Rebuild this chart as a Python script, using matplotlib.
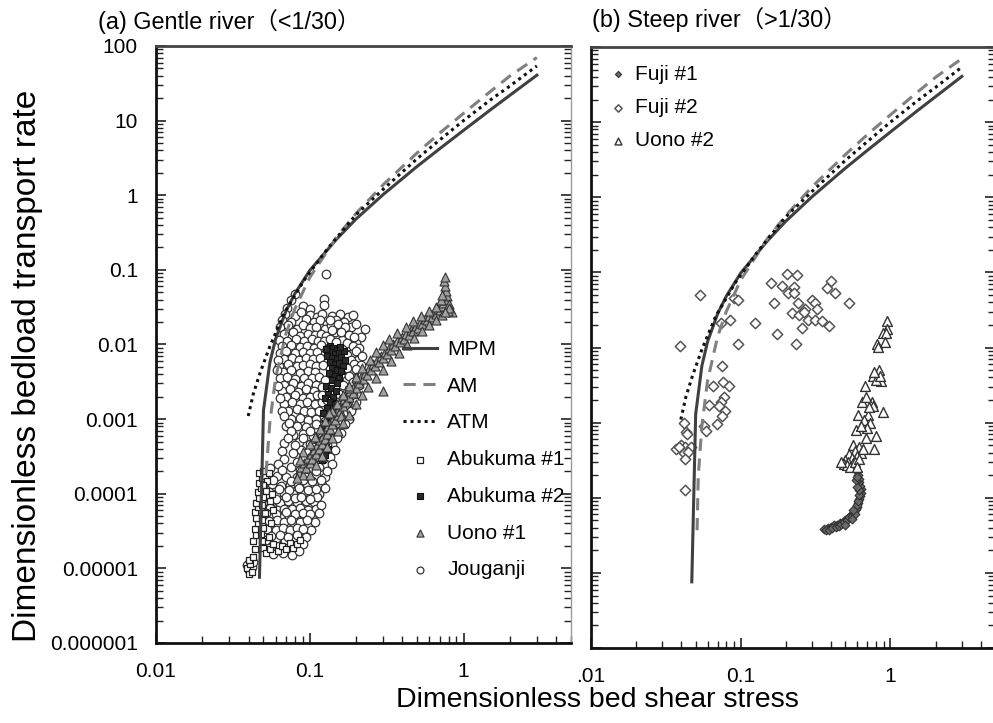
import matplotlib
matplotlib.use("Agg")
import matplotlib.pyplot as plt
from matplotlib.ticker import LogLocator, NullFormatter

plt.rcParams['font.family'] = ['Liberation Sans', 'Noto Sans CJK JP', 'DejaVu Sans']

# ---- model curves ----
mpm_x = [0.0471, 0.05, 0.055, 0.06, 0.07, 0.08, 0.1, 0.15, 0.2, 0.3, 0.5, 0.7, 1.0, 1.5, 2.0, 3.0]
mpm_y = [7.6e-6, 1.3e-3, 5.7e-3, 0.0119, 0.028, 0.048, 0.098, 0.26, 0.48, 1.02, 2.44, 4.2, 7.4, 14.0, 21.8, 40.6]

# first point only reached in panel (b)
am_x = [0.0511, 0.052, 0.055, 0.06, 0.07, 0.08, 0.1, 0.15, 0.2, 0.3, 0.5, 0.7, 1.0, 1.5, 2.0, 3.0]
am_y = [3.7e-5, 1.9e-4, 9.0e-4, 3.6e-3, 0.0139, 0.030, 0.079, 0.278, 0.57, 1.38, 3.7, 6.8, 12.5, 24.7, 39.5, 70.0]

atm_x = [0.0398, 0.043, 0.0476, 0.055, 0.068, 0.092, 0.13, 0.2, 0.3, 0.5, 0.7, 1.0, 1.5, 2.0, 3.0]
atm_y = [1.1e-3, 2.2e-3, 4.2e-3, 9.4e-3, 0.026, 0.073, 0.19, 0.55, 1.2, 3.1, 5.5, 10.0, 19.0, 29.0, 54.0]

# ---- (a) gentle river ----
abukuma1 = [(0.039, 1.0e-5), (0.040, 8.5e-6), (0.041, 1.15e-5), (0.040, 1.3e-5), (0.042, 9e-6),
            (0.043, 1.4e-5), (0.044, 1.8e-5), (0.043, 2.3e-5), (0.045, 2.8e-5), (0.044, 3.4e-5),
            (0.046, 4e-5), (0.045, 4.8e-5), (0.044, 5.7e-5), (0.046, 6.6e-5), (0.045, 7.6e-5),
            (0.047, 8.8e-5), (0.046, 1.05e-4), (0.048, 1.2e-4), (0.047, 1.4e-4), (0.049, 1.6e-4),
            (0.051, 1.75e-4), (0.053, 1.5e-4), (0.050, 1.3e-4), (0.052, 1.1e-4), (0.050, 9e-5),
            (0.049, 7e-5), (0.051, 5.5e-5), (0.049, 4.4e-5), (0.050, 3.5e-5), (0.048, 2.9e-5),
            (0.049, 2.3e-5), (0.050, 1.9e-5), (0.052, 1.6e-5), (0.055, 1.8e-5), (0.058, 2.1e-5),
            (0.062, 1.7e-5), (0.066, 2e-5), (0.070, 1.8e-5), (0.074, 2.2e-5), (0.078, 1.9e-5),
            (0.083, 2.1e-5), (0.087, 2.4e-5), (0.054, 2.6e-5), (0.056, 4e-5), (0.058, 6e-5),
            (0.055, 8e-5), (0.057, 1e-4), (0.047, 1.9e-4), (0.050, 2e-4), (0.054, 1.9e-4)]

abukuma2 = [(0.135, 0.0095), (0.142, 0.009), (0.150, 0.0085), (0.138, 0.008), (0.146, 0.0075),
            (0.155, 0.0078), (0.130, 0.007), (0.140, 0.0066), (0.150, 0.0064), (0.160, 0.0068),
            (0.135, 0.0058), (0.145, 0.0055), (0.155, 0.0057), (0.165, 0.0052), (0.140, 0.0048),
            (0.150, 0.0045), (0.160, 0.0044), (0.133, 0.0042), (0.145, 0.0038), (0.155, 0.0036),
            (0.140, 0.0033), (0.150, 0.003), (0.128, 0.0028), (0.138, 0.0026), (0.148, 0.0024),
            (0.132, 0.0022), (0.142, 0.002), (0.125, 0.0019), (0.135, 0.0017), (0.145, 0.0016),
            (0.130, 0.0014), (0.140, 0.0013), (0.122, 0.0012), (0.133, 0.0011), (0.125, 0.0009),
            (0.135, 0.00085), (0.120, 0.00075), (0.130, 0.0007), (0.125, 0.0006), (0.118, 0.00052),
            (0.128, 0.0005), (0.122, 0.00042), (0.132, 0.0004), (0.115, 0.00035), (0.125, 0.00033),
            (0.120, 0.00028), (0.168, 0.0082), (0.128, 0.0088), (0.158, 0.0093), (0.17, 0.0062)]

uono1 = [(0.085, 1.9e-4), (0.088, 2.3e-4), (0.090, 1.8e-4), (0.092, 2.6e-4), (0.095, 2.2e-4),
         (0.097, 3e-4), (0.100, 2.6e-4), (0.102, 3.4e-4), (0.104, 2.9e-4), (0.107, 3.9e-4),
         (0.110, 3.4e-4), (0.112, 4.5e-4), (0.115, 4e-4), (0.117, 5.2e-4), (0.120, 4.6e-4),
         (0.122, 6e-4), (0.125, 5.4e-4), (0.127, 7e-4), (0.130, 6.3e-4), (0.132, 8e-4),
         (0.135, 7.3e-4), (0.137, 9.3e-4), (0.140, 8.5e-4), (0.143, 1.07e-3), (0.146, 9.8e-4),
         (0.149, 1.23e-3), (0.152, 1.12e-3), (0.155, 1.4e-3), (0.158, 1.28e-3), (0.161, 1.6e-3),
         (0.165, 1.48e-3), (0.168, 1.85e-3), (0.172, 1.7e-3), (0.175, 2.1e-3), (0.180, 1.95e-3),
         (0.184, 2.4e-3), (0.190, 2.25e-3), (0.194, 2.8e-3), (0.200, 2.6e-3), (0.205, 3.2e-3),
         (0.210, 3e-3), (0.216, 3.7e-3), (0.222, 3.4e-3), (0.228, 4.2e-3), (0.235, 3.9e-3),
         (0.242, 4.8e-3), (0.250, 4.5e-3), (0.257, 5.5e-3), (0.265, 5.1e-3), (0.273, 6.2e-3),
         (0.282, 5.8e-3), (0.290, 7e-3), (0.300, 6.6e-3), (0.310, 7.9e-3), (0.320, 7.5e-3),
         (0.330, 8.9e-3), (0.340, 8.4e-3), (0.350, 0.010), (0.360, 9.5e-3), (0.372, 0.0112),
         (0.385, 0.0107), (0.398, 0.0125), (0.410, 0.012), (0.425, 0.014), (0.440, 0.0134),
         (0.455, 0.0157), (0.470, 0.015), (0.490, 0.0175), (0.505, 0.0168), (0.520, 0.0195),
         (0.540, 0.0188), (0.560, 0.0218), (0.580, 0.021), (0.600, 0.0243), (0.620, 0.0235),
         (0.640, 0.027), (0.660, 0.026), (0.680, 0.030), (0.700, 0.029), (0.720, 0.033),
         (0.740, 0.036), (0.760, 0.040), (0.780, 0.045), (0.770, 0.052), (0.760, 0.060),
         (0.750, 0.070), (0.755, 0.080), (0.800, 0.035), (0.820, 0.030), (0.840, 0.027),
         (0.790, 0.028), (0.300, 0.0024), (0.140, 0.0013), (0.160, 0.0011), (0.180, 0.0026),
         (0.200, 0.0035),
         # upper edge of the band
         (0.090, 3.6e-4), (0.100, 4.6e-4), (0.108, 5.8e-4), (0.116, 7.4e-4), (0.125, 9.4e-4),
         (0.134, 1.2e-3), (0.150, 1.6e-3), (0.165, 2.1e-3), (0.180, 2.8e-3), (0.200, 3.7e-3),
         (0.220, 4.8e-3), (0.245, 6.2e-3), (0.270, 7.9e-3), (0.300, 9.8e-3), (0.330, 0.0118),
         (0.370, 0.0142), (0.420, 0.0172), (0.470, 0.0205), (0.530, 0.024), (0.600, 0.028),
         (0.660, 0.032), (0.710, 0.039), (0.730, 0.046),
         # lower edge of the band
         (0.100, 1.8e-4), (0.110, 2.4e-4), (0.120, 3.2e-4), (0.130, 4.2e-4), (0.140, 5.5e-4),
         (0.152, 7e-4), (0.165, 9e-4), (0.180, 1.15e-3), (0.200, 1.6e-3), (0.220, 2.1e-3),
         (0.240, 2.7e-3), (0.270, 3.6e-3), (0.300, 4.6e-3), (0.340, 6e-3), (0.380, 7.8e-3),
         (0.430, 9.8e-3), (0.480, 0.0122), (0.540, 0.015), (0.600, 0.0185), (0.660, 0.0215),
         (0.720, 0.025), (0.800, 0.031), (0.760, 0.027), (0.082, 1.6e-4), (0.086, 2.8e-4)]

jouganji = [
    (0.127, 0.088), (0.080, 0.047), (0.076, 0.040), (0.123, 0.041), (0.123, 0.034), (0.090, 0.033),
    (0.100, 0.030), (0.071, 0.031),
    (0.069, 0.026), (0.080, 0.024), (0.088, 0.027), (0.100, 0.025), (0.112, 0.023), (0.121, 0.026),
    (0.140, 0.024), (0.158, 0.026), (0.176, 0.023), (0.190, 0.025),
    (0.066, 0.021), (0.075, 0.020), (0.094, 0.022), (0.106, 0.020), (0.117, 0.021), (0.130, 0.019),
    (0.148, 0.021), (0.166, 0.020),
    (0.064, 0.017), (0.072, 0.018), (0.083, 0.016), (0.090, 0.018), (0.100, 0.0165), (0.110, 0.017),
    (0.125, 0.016), (0.137, 0.018), (0.155, 0.016), (0.185, 0.017), (0.215, 0.0125),
    (0.068, 0.014), (0.078, 0.0145), (0.087, 0.013), (0.097, 0.014), (0.108, 0.0135), (0.118, 0.014),
    (0.128, 0.013), (0.145, 0.0145), (0.170, 0.013),
    (0.063, 0.0115), (0.071, 0.011), (0.081, 0.012), (0.092, 0.011), (0.103, 0.0118), (0.113, 0.011),
    (0.123, 0.0112), (0.162, 0.0115), (0.200, 0.0105),
    (0.066, 0.0095), (0.075, 0.0098), (0.086, 0.0092), (0.096, 0.0096), (0.107, 0.009), (0.119, 0.0097),
    (0.178, 0.0094),
    (0.064, 0.0078), (0.070, 0.0081), (0.080, 0.0076), (0.090, 0.008), (0.100, 0.0077), (0.112, 0.0079),
    (0.126, 0.0075), (0.190, 0.0078),
    (0.068, 0.0064), (0.077, 0.0066), (0.085, 0.0062), (0.095, 0.0065), (0.105, 0.0063), (0.117, 0.0066),
    (0.172, 0.0064), (0.205, 0.0061),
    (0.063, 0.0052), (0.072, 0.0054), (0.082, 0.0051), (0.091, 0.0053), (0.100, 0.0055), (0.110, 0.0051),
    (0.122, 0.0053), (0.182, 0.0052),
    (0.067, 0.0043), (0.076, 0.0045), (0.087, 0.0042), (0.097, 0.0044), (0.108, 0.0043), (0.165, 0.0045),
    (0.190, 0.0042), (0.212, 0.0044),
    (0.064, 0.0035), (0.071, 0.0037), (0.080, 0.0034), (0.092, 0.0036), (0.103, 0.0035), (0.115, 0.0037),
    (0.175, 0.0034), (0.200, 0.0036),
    (0.068, 0.0029), (0.078, 0.0030), (0.088, 0.0028), (0.098, 0.0030), (0.110, 0.0029), (0.185, 0.0028),
    (0.066, 0.0024), (0.074, 0.0025), (0.084, 0.0023), (0.095, 0.0025), (0.106, 0.0024), (0.168, 0.0023),
    (0.195, 0.0025),
    (0.070, 0.0020), (0.080, 0.0021), (0.090, 0.0019), (0.100, 0.0020), (0.112, 0.0021), (0.178, 0.0019),
    (0.068, 0.0016), (0.077, 0.0017), (0.087, 0.0016), (0.096, 0.0017), (0.108, 0.0016), (0.120, 0.0017),
    (0.160, 0.0016), (0.190, 0.0015),
    (0.072, 0.0013), (0.082, 0.00135), (0.092, 0.0013), (0.102, 0.00125), (0.115, 0.0013), (0.170, 0.0012),
    (0.075, 0.0010), (0.086, 0.00105), (0.098, 0.00098), (0.110, 0.0010), (0.125, 0.00095), (0.180, 0.0010),
    (0.070, 0.0008), (0.082, 0.00082), (0.095, 0.00078), (0.120, 0.0008), (0.150, 0.00075),
    (0.078, 0.00062), (0.090, 0.00064), (0.105, 0.0006), (0.130, 0.00063),
    (0.068, 0.00048), (0.085, 0.0005), (0.100, 0.00047), (0.115, 0.00049), (0.140, 0.00046),
    (0.066, 0.00037), (0.088, 0.00038), (0.097, 0.00036), (0.110, 0.00037), (0.128, 0.00038),
    (0.068, 0.00029), (0.092, 0.0003), (0.105, 0.00028), (0.122, 0.00029),
    (0.055, 0.00022), (0.075, 0.00023), (0.086, 0.00021), (0.100, 0.00022), (0.115, 0.00023),
    (0.052, 0.00017), (0.061, 0.000175), (0.070, 0.000165), (0.082, 0.00017), (0.095, 0.000168),
    (0.110, 0.000172), (0.125, 0.000165),
    (0.050, 0.00013), (0.057, 0.000135), (0.065, 0.000128), (0.074, 0.000132), (0.084, 0.00013),
    (0.096, 0.000134), (0.108, 0.000127), (0.120, 0.00013),
    (0.048, 0.0001), (0.054, 0.000104), (0.060, 0.000098), (0.068, 0.000102), (0.078, 0.0001),
    (0.090, 0.000103), (0.102, 0.000097), (0.115, 0.0001),
    (0.050, 7.8e-5), (0.057, 8.1e-5), (0.064, 7.6e-5), (0.072, 7.9e-5), (0.082, 7.7e-5), (0.094, 8e-5),
    (0.106, 7.8e-5),
    (0.048, 6.2e-5), (0.055, 6.4e-5), (0.061, 6.1e-5), (0.068, 6.3e-5), (0.077, 6.2e-5), (0.087, 6.4e-5),
    (0.098, 6.1e-5), (0.110, 6.3e-5),
    (0.050, 4.8e-5), (0.058, 5e-5), (0.065, 4.7e-5), (0.073, 4.9e-5), (0.082, 4.8e-5), (0.092, 5e-5),
    (0.104, 4.7e-5),
    (0.048, 3.8e-5), (0.055, 3.9e-5), (0.062, 3.7e-5), (0.070, 3.9e-5), (0.079, 3.8e-5), (0.088, 3.9e-5),
    (0.098, 3.7e-5),
    (0.050, 3e-5), (0.058, 3.1e-5), (0.066, 2.9e-5), (0.075, 3.1e-5), (0.085, 3e-5), (0.094, 3.1e-5),
    (0.052, 2.4e-5), (0.060, 2.5e-5), (0.069, 2.3e-5), (0.078, 2.5e-5), (0.088, 2.4e-5),
    (0.054, 1.9e-5), (0.063, 2e-5), (0.072, 1.9e-5), (0.082, 1.95e-5),
    (0.058, 1.55e-5), (0.067, 1.6e-5), (0.077, 1.5e-5),
    (0.039, 1.1e-5), (0.041, 1.25e-5), (0.040, 9.5e-6), (0.042, 1.05e-5), (0.043, 1.2e-5),
    # right-hand part of the upper cloud
    (0.135, 0.021), (0.152, 0.019), (0.170, 0.017), (0.200, 0.019), (0.230, 0.016), (0.140, 0.0155),
    (0.160, 0.0145), (0.180, 0.0135), (0.195, 0.0125), (0.135, 0.012), (0.148, 0.0108), (0.175, 0.0105),
    (0.190, 0.0095), (0.210, 0.009), (0.130, 0.0088), (0.163, 0.0086), (0.200, 0.0082), (0.175, 0.0073),
    (0.220, 0.007), (0.185, 0.0062), (0.160, 0.0058), (0.195, 0.0055), (0.215, 0.0053), (0.135, 0.0047),
    (0.175, 0.0048), (0.200, 0.0047), (0.160, 0.0040), (0.180, 0.0038), (0.220, 0.0039), (0.125, 0.0033),
    (0.190, 0.0031), (0.165, 0.0029), (0.210, 0.0029), (0.120, 0.0027), (0.180, 0.0025), (0.155, 0.0022),
    (0.120, 0.0021), (0.190, 0.0021), (0.165, 0.0019), (0.130, 0.0018), (0.200, 0.0017), (0.175, 0.0015),
    (0.145, 0.0014), (0.185, 0.0013), (0.135, 0.00115), (0.160, 0.00105), (0.155, 0.0009), (0.170, 0.00085),
    (0.140, 0.00072), (0.160, 0.00065), (0.120, 0.00058), (0.150, 0.00055), (0.130, 0.00045),
    (0.145, 0.00038), (0.135, 0.00031), (0.140, 0.00025), (0.130, 0.0002), (0.125, 0.00012),
    (0.112, 9e-5), (0.118, 7e-5), (0.115, 5.5e-5), (0.108, 4.2e-5), (0.102, 3.3e-5), (0.095, 2.6e-5),
    (0.090, 2.1e-5), (0.085, 1.7e-5),
    # filling the middle and lower parts
    (0.062, 0.0062), (0.061, 0.0045), (0.062, 0.0028), (0.064, 0.0019), (0.066, 0.0013), (0.068, 0.0011),
    (0.073, 0.0009), (0.076, 0.0007), (0.072, 0.00055), (0.080, 0.00045), (0.078, 0.00035),
    (0.082, 0.00027), (0.062, 0.00025), (0.066, 0.00021), (0.090, 0.00055), (0.100, 0.0007),
    (0.110, 0.00085), (0.105, 0.00042), (0.115, 0.00031), (0.095, 0.00025), (0.110, 0.0002),
    (0.058, 0.000152), (0.075, 0.000148), (0.090, 0.000155), (0.104, 0.000146), (0.118, 0.000152),
    (0.063, 0.000116), (0.073, 0.000112), (0.085, 0.000118), (0.097, 0.000113), (0.110, 0.000117),
    (0.053, 8.9e-5), (0.060, 8.6e-5), (0.070, 9e-5), (0.080, 8.7e-5), (0.088, 9.1e-5), (0.100, 8.6e-5),
    (0.052, 5.6e-5), (0.060, 5.4e-5), (0.070, 5.7e-5), (0.080, 5.4e-5), (0.090, 5.6e-5), (0.100, 5.4e-5),
    (0.054, 4.3e-5), (0.061, 4.4e-5), (0.068, 4.2e-5), (0.076, 4.4e-5), (0.086, 4.2e-5), (0.096, 4.4e-5),
    (0.053, 3.4e-5), (0.060, 3.3e-5), (0.067, 3.5e-5), (0.074, 3.3e-5), (0.082, 3.5e-5), (0.091, 3.4e-5),
    (0.056, 2.7e-5), (0.064, 2.8e-5), (0.072, 2.6e-5), (0.082, 2.8e-5),
]

# ---- (b) steep river ----
fuji1 = [(0.36, 3.8e-5), (0.38, 3.9e-5), (0.40, 4.1e-5), (0.42, 4.3e-5), (0.44, 4.4e-5), (0.46, 4.6e-5),
         (0.48, 4.8e-5), (0.50, 5e-5), (0.52, 5.3e-5), (0.54, 5.7e-5), (0.56, 6.1e-5), (0.58, 6.8e-5),
         (0.60, 7.5e-5), (0.61, 8.5e-5), (0.62, 9.5e-5), (0.63, 1.05e-4), (0.64, 1.15e-4), (0.635, 1.3e-4),
         (0.63, 1.45e-4), (0.62, 1.6e-4), (0.615, 1.8e-4), (0.61, 2e-4), (0.60, 2.3e-4), (0.37, 3.7e-5),
         (0.39, 3.7e-5), (0.41, 3.9e-5), (0.43, 4.1e-5), (0.45, 4.2e-5), (0.47, 4.5e-5), (0.49, 4.7e-5),
         (0.51, 5.1e-5), (0.53, 5.5e-5), (0.55, 5.8e-5), (0.57, 6.4e-5), (0.59, 7e-5), (0.60, 8e-5),
         (0.61, 9e-5), (0.62, 1.1e-4), (0.62, 1.25e-4), (0.60, 1.4e-4), (0.59, 1.7e-4), (0.60, 1.9e-4),
         (0.58, 6e-5), (0.55, 5.2e-5), (0.50, 4.4e-5), (0.56, 6.8e-5)]

fuji2 = [(0.0533, 0.0493), (0.0393, 0.0106), (0.0903, 0.046), (0.096, 0.0428), (0.0842, 0.0231),
         (0.0738, 0.0209), (0.096, 0.011), (0.125, 0.0213), (0.160, 0.0713), (0.168, 0.0386),
         (0.174, 0.0149), (0.203, 0.096), (0.238, 0.093), (0.188, 0.0657), (0.228, 0.0643),
         (0.206, 0.0525), (0.228, 0.053), (0.240, 0.0386), (0.268, 0.0328), (0.221, 0.0284),
         (0.245, 0.0271), (0.265, 0.0295), (0.297, 0.0428), (0.312, 0.0397), (0.322, 0.0323),
         (0.282, 0.0231), (0.255, 0.0181), (0.312, 0.0231), (0.349, 0.0224), (0.386, 0.0193),
         (0.375, 0.0626), (0.403, 0.0762), (0.424, 0.053), (0.525, 0.0386), (0.235, 0.011),
         (0.0745, 5.7e-3), (0.076, 3.5e-3), (0.084, 3.05e-3), (0.0653, 3.05e-3), (0.0768, 2.2e-3),
         (0.074, 1.9e-3), (0.0715, 1.65e-3), (0.0783, 1.43e-3), (0.0745, 1.24e-3), (0.0614, 1.73e-3),
         (0.0693, 9.7e-4), (0.0571, 8.9e-4), (0.0584, 7.7e-4), (0.0421, 1.0e-3), (0.043, 7.4e-4),
         (0.0436, 7.1e-4), (0.0401, 5.1e-4), (0.0369, 4.5e-4), (0.0426, 4.8e-4), (0.0464, 4.7e-4),
         (0.042, 3.9e-4), (0.0441, 4.1e-4), (0.0424, 3.3e-4), (0.0424, 1.28e-4), (0.0389, 4.8e-4)]

uono2 = [(0.946, 0.0224), (0.955, 0.0177), (0.885, 0.0158), (0.93, 0.0158), (0.808, 0.011),
         (0.82, 0.0101), (0.76, 0.0042), (0.84, 0.005), (0.871, 0.0036), (0.80, 0.0037),
         (0.676, 0.0031), (0.646, 0.0019), (0.748, 0.0019), (0.76, 0.00165), (0.885, 0.00137),
         (0.605, 0.00128), (0.704, 0.00128), (0.664, 0.0011), (0.73, 0.001), (0.589, 0.00079),
         (0.70, 0.00085), (0.80, 0.00067), (0.685, 0.00063), (0.78, 0.00044), (0.56, 0.00051),
         (0.62, 0.00048), (0.58, 0.00042), (0.64, 0.0004), (0.53, 0.00038), (0.55, 0.00034),
         (0.60, 0.00036), (0.50, 0.00032), (0.52, 0.0003), (0.56, 0.00029), (0.49, 0.00028),
         (0.51, 0.00027), (0.54, 0.00026), (0.58, 0.0003), (0.62, 0.00033), (0.66, 0.00045),
         (0.60, 0.00026), (0.47, 0.0003), (0.85, 0.0042), (0.78, 0.0047), (0.92, 0.012),
         (0.72, 0.0016), (0.69, 0.0022), (0.64, 0.0009)]

x_ticks = [0.01, 0.1, 1]
y_ticks = [1e-6, 1e-5, 1e-4, 1e-3, 1e-2, 0.1, 1, 10, 100]
y_labels = ['0.000001', '0.00001', '0.0001', '0.001', '0.01', '0.1', '1', '10', '100']


def xy(points):
    return [p[0] for p in points], [p[1] for p in points]


def style_axes(ax, x_labels, show_y):
    ax.set_xscale('log')
    ax.set_yscale('log')
    ax.set_xlim(0.01, 5)
    ax.set_ylim(1e-6, 100)
    ax.set_xticks(x_ticks)
    ax.set_xticklabels(x_labels)
    ax.set_yticks(y_ticks)
    ax.set_yticklabels(y_labels if show_y else [])
    ax.xaxis.set_minor_locator(LogLocator(base=10, subs=range(2, 10)))
    ax.yaxis.set_minor_locator(LogLocator(base=10, subs=range(2, 10)))
    ax.xaxis.set_minor_formatter(NullFormatter())
    ax.yaxis.set_minor_formatter(NullFormatter())
    ax.tick_params(which='both', direction='in', left=True, right=True, top=False, bottom=True,
                   labelsize=15, color='#222222')
    ax.tick_params(axis='y', which='major', length=7, width=1.2, pad=13)
    ax.tick_params(axis='y', which='minor', length=5, width=1.0)
    ax.tick_params(axis='x', which='major', length=7, width=1.2, pad=14)
    ax.tick_params(axis='x', which='minor', length=5, width=1.0)
    ax.spines['left'].set_linewidth(2)
    ax.spines['left'].set_color('#111111')
    ax.spines['bottom'].set_linewidth(2)
    ax.spines['bottom'].set_color('#111111')
    ax.spines['top'].set_linewidth(2)
    ax.spines['top'].set_color('#444444')
    ax.spines['right'].set_linewidth(1)
    ax.spines['right'].set_color('#999999')


def draw_curves(ax, am_start):
    ax.plot(mpm_x, mpm_y, color='#404040', lw=2.2, ls='-', label='MPM', zorder=5)
    ax.plot(am_x[am_start:], am_y[am_start:], color='#808080', lw=2.2, ls=(0, (4, 2.5)), label='AM', zorder=5)
    ax.plot(atm_x, atm_y, color='#111111', lw=2.2, ls=(0, (1, 1.3)), label='ATM', zorder=5)


fig = plt.figure(figsize=(9.93, 7.23), dpi=100)
ax1 = fig.add_axes([0.1571, 0.1107, 0.4179, 0.8257])
ax2 = fig.add_axes([0.5952, 0.1037, 0.4069, 0.8313])

# panel (a)
jx, jy = xy(jouganji)
ax1.scatter(jx, jy, marker='o', s=38, facecolor='white', edgecolor='#333333', linewidth=0.9,
            label='Jouganji', zorder=2)
a1x, a1y = xy(abukuma1)
ax1.scatter(a1x, a1y, marker='s', s=24, facecolor='white', edgecolor='#222222', linewidth=0.9,
            label='Abukuma #1', zorder=3)
a2x, a2y = xy(abukuma2)
ax2_dummy = None
ax1.scatter(a2x, a2y, marker='s', s=24, facecolor='#2a2a2a', edgecolor='#111111', linewidth=0.8,
            label='Abukuma #2', zorder=3)
u1x, u1y = xy(uono1)
ax1.scatter(u1x, u1y, marker='^', s=42, facecolor='#a0a0a0', edgecolor='#333333', linewidth=0.8,
            label='Uono #1', zorder=4)
draw_curves(ax1, 1)
style_axes(ax1, ['0.01', '0.1', '1'], True)

h, l = ax1.get_legend_handles_labels()
order = ['MPM', 'AM', 'ATM', 'Abukuma #1', 'Abukuma #2', 'Uono #1', 'Jouganji']
hl = dict(zip(l, h))
ax1.legend([hl[k] for k in order], order, loc='upper left', bbox_to_anchor=(0.571, 0.525),
           frameon=False, fontsize=15, handlelength=1.6, handletextpad=0.5,
           labelspacing=0.85, borderpad=0, markerscale=0.8)

# panel (b)
f1x, f1y = xy(fuji1)
ax2.scatter(f1x, f1y, marker='D', s=20, facecolor='#6a6a6a', edgecolor='#333333', linewidth=0.8,
            label='Fuji #1', zorder=3)
f2x, f2y = xy(fuji2)
ax2.scatter(f2x, f2y, marker='D', s=28, facecolor='white', edgecolor='#555555', linewidth=1.1,
            label='Fuji #2', zorder=3)
u2x, u2y = xy(uono2)
ax2.scatter(u2x, u2y, marker='^', s=50, facecolor='white', edgecolor='#333333', linewidth=1.0,
            label='Uono #2', zorder=4)
draw_curves(ax2, 0)
style_axes(ax2, ['.01', '0.1', '1'], False)

h2, l2 = ax2.get_legend_handles_labels()
hl2 = dict(zip(l2, h2))
order2 = ['Fuji #1', 'Fuji #2', 'Uono #2']
ax2.legend([hl2[k] for k in order2], order2, loc='upper left', bbox_to_anchor=(0.018, 0.988),
           frameon=False, fontsize=15, handlelength=0.9, handletextpad=0.35,
           labelspacing=0.69, borderpad=0, markerscale=0.7)

fig.text(98 / 993, 1 - 22 / 723, '(a) Gentle river（<1/30）', fontsize=16.8, ha='left', va='center')
fig.text(592 / 993, 1 - 20 / 723, '(b) Steep river（>1/30）', fontsize=16.8, ha='left', va='center')
fig.text(28 / 993, 1 - 366 / 723, 'Dimensionless bedload transport rate', fontsize=24,
         rotation=90, ha='center', va='center')
fig.text(597 / 993, 1 - 700 / 723, 'Dimensionless bed shear stress', fontsize=20.5,
         ha='center', va='center')

fig.savefig('out.png', dpi=100)
